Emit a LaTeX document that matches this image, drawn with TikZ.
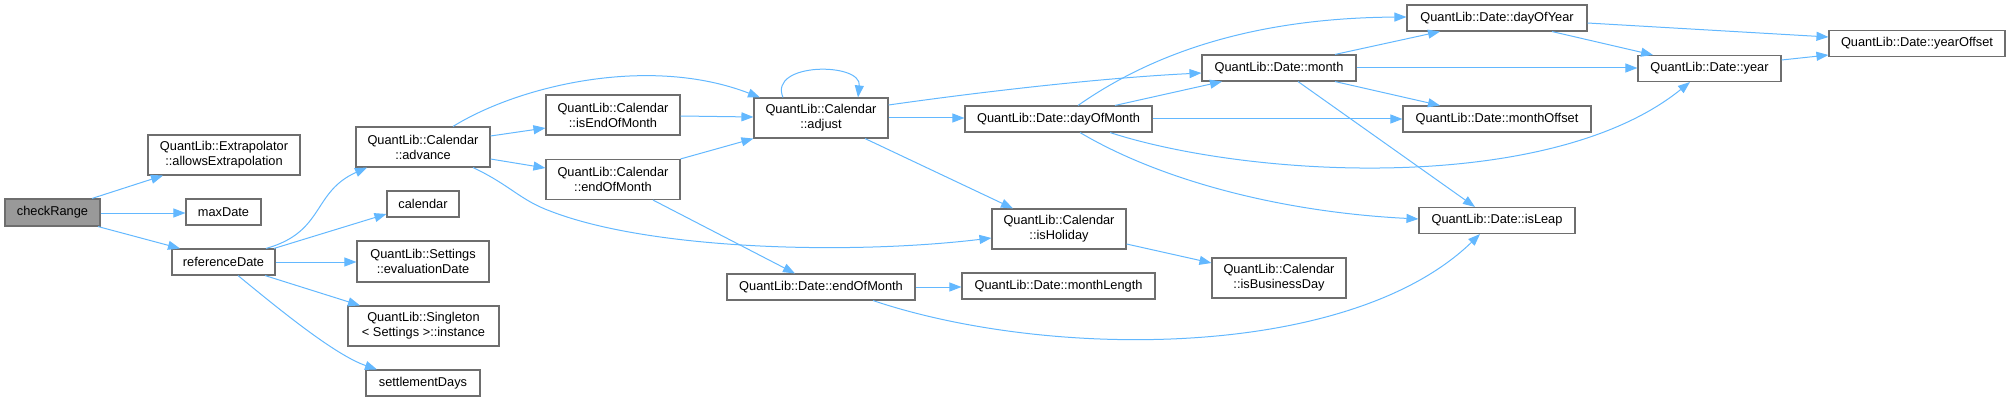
\documentclass[tikz,border=0pt]{standalone}
\usepackage{fontspec}
\setmainfont{Liberation Sans}
\usetikzlibrary{arrows.meta}
\definecolor{edgeblue}{HTML}{63B8FF}
\definecolor{boxline}{HTML}{6E6E6E}
\definecolor{rootfill}{HTML}{999999}
\begin{document}
\begin{tikzpicture}[x=1pt,y=-1pt,
  fbox/.style={draw=boxline, fill=white, line width=1.1pt, inner sep=0pt, align=center,
               font=\fontsize{12.8}{15}\selectfont},
  rootbox/.style={fbox, fill=rootfill},
  call/.style={draw=edgeblue, line width=1pt, -{Triangle[length=12pt,width=9pt]}}]
\useasboundingbox (0,0) rectangle (2011,401);

% nodes
\node[rootbox, minimum width=95pt, minimum height=27pt] (checkR) at (52.5,212.5) {checkRange};
\node[fbox, minimum width=152pt, minimum height=40pt] (extrap) at (224,155) {QuantLib::Extrapolator\\::allowsExtrapolation};
\node[fbox, minimum width=75pt, minimum height=26pt] (maxDate) at (223.5,212) {maxDate};
\node[fbox, minimum width=103pt, minimum height=26pt] (refDate) at (223.5,262) {referenceDate};
\node[fbox, minimum width=134pt, minimum height=40pt] (advance) at (423,147) {QuantLib::Calendar\\::advance};
\node[fbox, minimum width=72pt, minimum height=26pt] (calendar) at (423,204) {calendar};
\node[fbox, minimum width=132pt, minimum height=41pt] (evalDate) at (423,261.5) {QuantLib::Settings\\::evaluationDate};
\node[fbox, minimum width=151pt, minimum height=40pt] (singleton) at (423.5,326) {QuantLib::Singleton\\< Settings >::instance};
\node[fbox, minimum width=114pt, minimum height=26pt] (settle) at (423,383) {settlementDays};
\node[fbox, minimum width=134pt, minimum height=40pt] (isEOM) at (613,115) {QuantLib::Calendar\\::isEndOfMonth};
\node[fbox, minimum width=134pt, minimum height=40pt] (calEOM) at (613,179.5) {QuantLib::Calendar\\::endOfMonth};
\node[fbox, minimum width=134pt, minimum height=40pt] (adjust) at (821,118) {QuantLib::Calendar\\::adjust};
\node[fbox, minimum width=188pt, minimum height=26pt] (dateEOM) at (821,287) {QuantLib::Date::endOfMonth};
\node[fbox, minimum width=187pt, minimum height=26pt] (dayOfMonth) at (1058.5,119) {QuantLib::Date::dayOfMonth};
\node[fbox, minimum width=134pt, minimum height=40pt] (isHoliday) at (1059,229) {QuantLib::Calendar\\::isHoliday};
\node[fbox, minimum width=193pt, minimum height=26pt] (monthLength) at (1058.5,286) {QuantLib::Date::monthLength};
\node[fbox, minimum width=180pt, minimum height=26pt] (dayOfYear) at (1497,18) {QuantLib::Date::dayOfYear};
\node[fbox, minimum width=154pt, minimum height=26pt] (month) at (1279,68) {QuantLib::Date::month};
\node[fbox, minimum width=188pt, minimum height=26pt] (monthOffset) at (1497,119) {QuantLib::Date::monthOffset};
\node[fbox, minimum width=156pt, minimum height=26pt] (isLeap) at (1497,220.5) {QuantLib::Date::isLeap};
\node[fbox, minimum width=134pt, minimum height=40pt] (isBusDay) at (1279,278) {QuantLib::Calendar\\::isBusinessDay};
\node[fbox, minimum width=143pt, minimum height=26pt] (year) at (1709.5,68.5) {QuantLib::Date::year};
\node[fbox, minimum width=176pt, minimum height=26pt] (yearOffset) at (1917,43.5) {QuantLib::Date::yearOffset};

% edges from checkRange
\draw[call] (checkR.north -| 92,0) -- (extrap.south -| 163,0);
\draw[call] (checkR.east |- 0,213) -- (maxDate.west |- 0,213);
\draw[call] (checkR.south -| 98,0) -- (refDate.north -| 180,0);

% edges from referenceDate
\draw[call] (refDate.north -| 266,0) .. controls (325,232) and (312,192) .. (advance.south -| 367,0);
\draw[call] (refDate.north -| 274,0) -- (calendar.west |- 0,214);
\draw[call] (refDate.east |- 0,262) -- (evalDate.west |- 0,262);
\draw[call] (refDate.south -| 265,0) -- (singleton.north -| 360,0);
\draw[call] (refDate.south -| 238,0) .. controls (280,310) and (335,355) .. (settle.north -| 377,0);

% edges from advance
\draw[call] (advance.north -| 453,0) .. controls (520,85) and (650,55) .. (adjust.north -| 760,0);
\draw[call] (advance.east |- 0,136) -- (isEOM.west |- 0,128);
\draw[call] (advance.east |- 0,159) -- (calEOM.west |- 0,168);
\draw[call] (advance.south -| 473,0) .. controls (510,185) and (520,200) .. (550,211)
            .. controls (650,250) and (850,255) .. (isHoliday.west |- 0,238);

% isEndOfMonth, Calendar::endOfMonth
\draw[call] (isEOM.east |- 0,116) -- (adjust.west |- 0,117);
\draw[call] (calEOM.north east) -- (adjust.south west);
\draw[call] (calEOM.south -| 653,0) -- (dateEOM.north -| 795,0);

% edges from adjust
\draw[call] (adjust.north -| 783,0) .. controls (768,62) and (862,62) .. (adjust.north -| 858,0);
\draw[call] (adjust.east |- 0,105) .. controls (980,92) and (1100,78) .. (month.west |- 0,73);
\draw[call] (adjust.east |- 0,118) -- (dayOfMonth.west |- 0,118);
\draw[call] (adjust.south -| 865,0) -- (isHoliday.north -| 1013,0);

% edges from dayOfMonth
\draw[call] (dayOfMonth.north -| 1078,0) .. controls (1150,55) and (1250,18) .. (dayOfYear.west |- 0,17);
\draw[call] (dayOfMonth.north -| 1115,0) -- (month.south -| 1222,0);
\draw[call] (dayOfMonth.east |- 0,119) -- (monthOffset.west |- 0,119);
\draw[call] (dayOfMonth.south -| 1110,0) .. controls (1250,178) and (1550,195) .. (year.south -| 1690,0);
\draw[call] (dayOfMonth.south -| 1080,0) .. controls (1160,180) and (1280,212) .. (isLeap.west |- 0,219);

% isHoliday, Date::endOfMonth
\draw[call] (isHoliday.east |- 0,244) -- (isBusDay.west |- 0,263);
\draw[call] (dateEOM.east |- 0,287) -- (monthLength.west |- 0,287);
\draw[call] (dateEOM.south -| 873,0) .. controls (1050,360) and (1350,360) .. (isLeap.south -| 1480,0);

% edges from month
\draw[call] (month.north -| 1335,0) -- (dayOfYear.south -| 1440,0);
\draw[call] (month.east |- 0,68) -- (year.west |- 0,68);
\draw[call] (month.south -| 1335,0) -- (monthOffset.north -| 1440,0);
\draw[call] (month.south -| 1298,0) -- (isLeap.north -| 1475,0);

% dayOfYear, year
\draw[call] (dayOfYear.south -| 1552,0) -- (year.north -| 1653,0);
\draw[call] (dayOfYear.east |- 0,23) -- (yearOffset.west |- 0,37);
\draw[call] (year.east |- 0,60) -- (yearOffset.west |- 0,55);
\end{tikzpicture}
\end{document}
